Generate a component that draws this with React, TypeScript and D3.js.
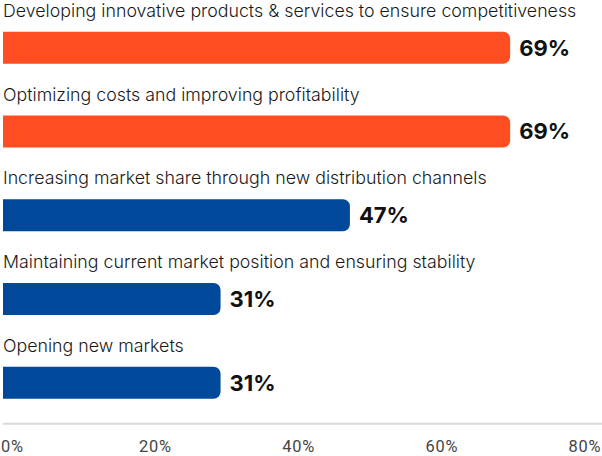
import React from "react";
import * as d3 from "d3";

const categories = [
  "Developing innovative products & services to ensure competitiveness",
  "Optimizing costs and improving profitability",
  "Increasing market share through new distribution channels",
  "Maintaining current market position and ensuring stability",
  "Opening new markets",
];
const barValues = [69, 69, 47.2, 29.6, 29.6];
const valueLabels = ["69%", "69%", "47%", "31%", "31%"];
const highlighted = [true, true, false, false, false];
const tickValues = [0, 20, 40, 60, 80];
const tickLabels = ["0%", "20%", "40%", "60%", "80%"];

const W = 602;
const H = 456;

export default function App() {
  const x = d3.scaleLinear().domain([0, 80]).range([3, 591]);
  const xTick = d3.scaleLinear().domain([0, 80]).range([12.3, 585]);
  const y = d3
    .scaleBand<number>()
    .domain(d3.range(categories.length))
    .range([0, 418.75])
    .paddingInner(0)
    .paddingOuter(0);
  const bandTop = (i: number) => (y(i) as number);
  const barH = 32;
  const r = 7;

  const barPath = (x0: number, x1: number, y0: number, h: number) => {
    const p = d3.path();
    p.moveTo(x0, y0);
    p.lineTo(x1 - r, y0);
    p.arcTo(x1, y0, x1, y0 + r, r);
    p.lineTo(x1, y0 + h - r);
    p.arcTo(x1, y0 + h, x1 - r, y0 + h, r);
    p.lineTo(x0, y0 + h);
    p.closePath();
    return p.toString();
  };

  return (
    <svg
      width={W}
      height={H}
      style={{ position: "absolute", left: 0, top: 0, background: "#fff" }}
    >
      {categories.map((c, i) => {
        const t = bandTop(i);
        const y0 = t + 31.7;
        return (
          <g key={c}>
            <text
              x={3}
              y={t + 16.8}
              fontFamily="Inter, 'Noto Sans', sans-serif"
              fontSize={17.8}
              fontWeight={300}
              fill="#1a1a1a"
            >
              {c}
            </text>
            <path
              d={barPath(x(0), x(barValues[i]), y0, barH)}
              fill={highlighted[i] ? "#FF4D22" : "#00489A"}
            />
            <text
              x={x(barValues[i]) + 9}
              y={y0 + barH / 2 + 8}
              fontFamily="Inter, 'Noto Sans', sans-serif"
              fontWeight={700}
              fontSize={22}
              fill="#111"
            >
              {valueLabels[i]}
            </text>
          </g>
        );
      })}
      <line x1={3} x2={602} y1={423.7} y2={423.7} stroke="#d9d9d9" strokeWidth={2} />
      {tickValues.map((v, i) => (
        <text
          key={v}
          x={xTick(v)}
          y={451.5}
          textAnchor="middle"
          fontFamily="Roboto, sans-serif"
          fontSize={16.4}
          letterSpacing={0.8}
          fill="#444"
        >
          {tickLabels[i]}
        </text>
      ))}
    </svg>
  );
}
